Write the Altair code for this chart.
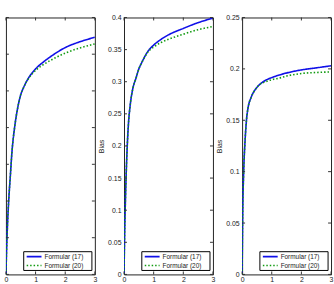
import altair as alt
import pandas as pd

# Sample positions along the horizontal axis
x_pts = [0, 0.02, 0.05, 0.1, 0.15, 0.2, 0.3, 0.4, 0.5, 0.6, 0.8, 1.0, 1.25, 1.5, 2.0, 2.5, 3.0]

series_names = ["Formular (17)", "Formular (20)"]

# Panel 1
p1_f17 = [0, 0.06, 0.13, 0.21, 0.27, 0.33, 0.405, 0.455, 0.49, 0.51, 0.54, 0.56, 0.578, 0.593, 0.618, 0.634, 0.646]
p1_f20 = [0, 0.06, 0.13, 0.21, 0.27, 0.33, 0.405, 0.455, 0.49, 0.51, 0.538, 0.556, 0.571, 0.583, 0.603, 0.617, 0.628]
# Panel 2
p2_f17 = [0, 0.06, 0.12, 0.19, 0.235, 0.26, 0.29, 0.305, 0.32, 0.33, 0.347, 0.357, 0.366, 0.373, 0.383, 0.392, 0.399]
p2_f20 = [0, 0.06, 0.12, 0.19, 0.235, 0.26, 0.29, 0.305, 0.32, 0.33, 0.346, 0.354, 0.361, 0.366, 0.374, 0.381, 0.386]
# Panel 3
p3_f17 = [0, 0.06, 0.097, 0.13, 0.151, 0.162, 0.172, 0.178, 0.182, 0.185, 0.189, 0.1915, 0.194, 0.196, 0.199, 0.201, 0.203]
p3_f20 = [0, 0.06, 0.097, 0.13, 0.151, 0.162, 0.172, 0.178, 0.182, 0.185, 0.1875, 0.1895, 0.191, 0.193, 0.1955, 0.1965, 0.197]

x_ticks = [0, 1, 2, 3]
p1_yticks = [0, 0.1, 0.2, 0.3, 0.4, 0.5, 0.6, 0.7]
p2_yticks = [0, 0.05, 0.1, 0.15, 0.2, 0.25, 0.3, 0.35, 0.4]
p3_yticks = [0, 0.05, 0.1, 0.15, 0.2, 0.25]

W, H = 90, 260
TICK = 3
FONT = "Liberation Sans"
COLORS = ["#1010e8", "#109a10"]
DASHES = [[1, 0], [1.5, 2]]
INK = "#222"

# Legend box geometry inside each panel (pixels from the plot's top-left)
LEG_X0, LEG_X1, LEG_Y0, LEG_Y1 = 18, 87, 237, 256
LEG_ROW0, LEG_ROW_STEP = 242, 9
LEG_LINE_X0, LEG_LINE_X1, LEG_TEXT_X = 21, 36, 39


def panel(f17, f20, yticks, show_labels):
    df = pd.DataFrame({
        "x": x_pts * 2,
        "bias": f17 + f20,
        "series": [series_names[0]] * len(x_pts) + [series_names[1]] * len(x_pts),
    })
    xs = alt.Scale(domain=[0, 3], nice=False, zero=False)
    ys = alt.Scale(domain=[yticks[0], yticks[-1]], nice=False, zero=False)
    x_axis = alt.Axis(values=x_ticks, tickSize=0, domain=False, grid=False,
                      labelFontSize=7, labelFont=FONT, labelColor=INK,
                      labelPadding=1, labelOverlap=False, labelFlush=False,
                      title=None, format="d")
    y_axis = alt.Axis(values=yticks, tickSize=0, domain=False, grid=False,
                      labelFontSize=7, labelFont=FONT, labelColor=INK,
                      labelPadding=3, labelOverlap=False, labelFlush=False,
                      labels=show_labels, format=".2~f",
                      title="Bias" if show_labels else None,
                      titleFontSize=7, titleFont=FONT, titleFontWeight="normal",
                      titleColor=INK, titlePadding=3)

    lines = alt.Chart(df).mark_line(clip=True, interpolate="monotone", strokeWidth=1.6).encode(
        x=alt.X("x:Q", scale=xs, axis=x_axis),
        y=alt.Y("bias:Q", scale=ys, axis=y_axis),
        color=alt.Color("series:N", scale=alt.Scale(domain=series_names, range=COLORS), legend=None),
        strokeDash=alt.StrokeDash("series:N", scale=alt.Scale(domain=series_names, range=DASHES), legend=None),
    )

    # Inward tick marks on all four sides
    ydf = pd.DataFrame({"bias": yticks})
    xdf = pd.DataFrame({"x": x_ticks})
    left = alt.Chart(ydf).mark_rule(color="#333", strokeWidth=1).encode(
        y=alt.Y("bias:Q", scale=ys, axis=y_axis), x=alt.value(0), x2=alt.value(TICK))
    right = alt.Chart(ydf).mark_rule(color="#333", strokeWidth=1).encode(
        y=alt.Y("bias:Q", scale=ys, axis=y_axis), x=alt.value(W - TICK), x2=alt.value(W))
    bottom = alt.Chart(xdf).mark_rule(color="#333", strokeWidth=1).encode(
        x=alt.X("x:Q", scale=xs, axis=x_axis), y=alt.value(H - TICK), y2=alt.value(H))
    top = alt.Chart(xdf).mark_rule(color="#333", strokeWidth=1).encode(
        x=alt.X("x:Q", scale=xs, axis=x_axis), y=alt.value(0), y2=alt.value(TICK))

    # Boxed legend in the lower-right corner
    box = alt.Chart(pd.DataFrame({"k": [0]})).mark_rect(
        fill="white", stroke="black", strokeWidth=1
    ).encode(x=alt.value(LEG_X0), x2=alt.value(LEG_X1), y=alt.value(LEG_Y0), y2=alt.value(LEG_Y1))
    legend_layers = [box]
    for i, name in enumerate(series_names):
        row_y = LEG_ROW0 + i * LEG_ROW_STEP
        ldf = pd.DataFrame({"series": [name]})
        legend_layers.append(
            alt.Chart(ldf).mark_rule(color=COLORS[i], strokeDash=DASHES[i], strokeWidth=1.6).encode(
                x=alt.value(LEG_LINE_X0), x2=alt.value(LEG_LINE_X1), y=alt.value(row_y))
        )
        legend_layers.append(
            alt.Chart(ldf).mark_text(align="left", baseline="middle", font=FONT,
                                     fontSize=6.5, color=INK).encode(
                x=alt.value(LEG_TEXT_X), y=alt.value(row_y + 0.5), text="series:N")
        )

    return alt.layer(lines, left, right, bottom, top, *legend_layers).properties(width=W, height=H)


chart = alt.hconcat(
    panel(p1_f17, p1_f20, p1_yticks, False),
    panel(p2_f17, p2_f20, p2_yticks, True),
    panel(p3_f17, p3_f20, p3_yticks, True),
    spacing=29.5, bounds="flush",
).resolve_scale(
    y="independent"
).properties(
    padding={"left": 3, "top": 11, "right": 0, "bottom": 0},
    background="white",
).configure_view(
    stroke="#222", strokeWidth=1
)

chart.save("out.html", embed_options={"renderer": "svg", "actions": False})
